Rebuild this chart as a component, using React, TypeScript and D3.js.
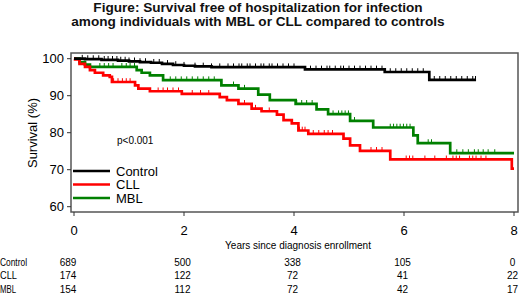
import React from "react";
import * as d3 from "d3";

const titleLines = [
  "Figure: Survival free of hospitalization for infection",
  "among individuals with MBL or CLL compared to controls",
];
const yTicks = [60, 70, 80, 90, 100];
const xTicks = [0, 2, 4, 6, 8];
const seriesNames = ["Control", "CLL", "MBL"];
const seriesColors = ["#000000", "#ff0000", "#008000"];

// [years, survival %]
const controlCurve: [number, number][] = [
  [0, 100], [0.2, 99.9], [0.5, 99.7], [0.8, 99.5], [1.0, 99.3], [1.2, 99.1],
  [1.4, 98.9], [1.6, 98.6], [1.8, 98.3], [2.0, 98.1], [2.2, 97.9], [2.5, 97.7],
  [4.2, 97.1], [5.65, 96.4], [6.46, 94.3],
];
const controlEnd = 7.31;
const cllCurve: [number, number][] = [
  [0, 100], [0.02, 99.8], [0.1, 98.6], [0.2, 97.8], [0.29, 96.9], [0.38, 96.2],
  [0.53, 95.5], [0.65, 95.1], [0.69, 93.7], [1.11, 92.8], [1.17, 91.9],
  [1.38, 91.2], [1.96, 90.5], [2.65, 89.6], [2.78, 88.8], [2.99, 87.8],
  [3.23, 86.5], [3.41, 85.8], [3.69, 84.9], [3.81, 83.4], [3.96, 82.5],
  [4.08, 80.6], [4.26, 79.7], [4.9, 78.4], [5.02, 76.6], [5.2, 75.1],
  [5.75, 72.8], [7.96, 70.3],
];
const cllEnd = 8.0;
const mblCurve: [number, number][] = [
  [0, 100], [0.1, 99.1], [0.2, 98.4], [0.29, 97.8], [1.14, 96.9], [1.23, 96.2],
  [1.38, 95.5], [1.62, 94.2], [2.68, 92.8], [2.99, 91.9], [3.35, 90.3],
  [3.56, 88.8], [4.03, 87.8], [4.41, 86.3], [4.62, 85.0], [5.02, 83.2],
  [5.44, 81.4], [6.17, 79.3], [6.25, 77.2], [6.84, 74.5],
];
const mblEnd = 8.0;

const controlCensor = [
  0.15, 0.25, 0.35, 0.45, 0.55, 0.62, 0.7, 0.78, 0.85, 0.93, 1.0, 1.1, 1.2, 1.3,
  1.45, 1.55, 1.7, 1.85, 2.0, 2.2, 2.35, 2.5, 2.65, 2.8, 2.9, 3.0, 3.05, 3.15,
  3.2, 3.3, 3.4, 3.45, 3.55, 3.6, 3.7, 3.8, 3.9, 4.0, 4.3, 4.4, 4.5, 4.6, 4.65,
  4.75, 4.85, 4.9, 5.0, 5.1, 5.2, 5.3, 5.4, 5.5, 5.6, 5.75, 5.85, 5.95, 6.05,
  6.15, 6.25, 6.35, 6.55, 6.65, 6.75, 6.85, 6.95, 7.05, 7.15, 7.25, 7.3,
];
const cllCensor = [
  0.72, 0.8, 0.88, 0.95, 1.02, 1.53, 1.62, 1.7, 1.8, 1.9, 2.15, 2.3, 2.45,
  3.1, 3.3, 3.55, 4.1, 4.15, 4.2, 4.35, 4.45, 4.55, 4.62, 4.7, 5.4, 5.5, 5.6,
  6.04, 6.1, 6.16, 6.38, 6.56, 6.77, 6.89, 6.95, 7.01, 7.19, 7.25, 7.31, 7.4,
  7.49,
];
const mblCensor = [
  0.47, 0.55, 0.63, 0.71, 0.87, 0.95, 1.02, 1.1, 1.75, 1.85, 1.95, 2.05, 2.15,
  2.25, 2.35, 2.45, 2.55, 2.9, 3.1, 4.05, 4.14, 4.23, 4.33, 4.71, 4.81, 4.87,
  4.93, 4.99, 5.1, 5.75, 5.81, 5.87, 5.93, 5.99, 6.05, 6.11, 6.44, 6.5, 6.96,
  7.07, 7.17, 7.28, 7.35, 7.44, 7.53, 7.65,
];

const atRiskTimes = [0, 2, 4, 6, 8];
const controlAtRisk = [689, 500, 338, 105, 0];
const cllAtRisk = [174, 122, 72, 41, 22];
const mblAtRisk = [154, 112, 72, 42, 17];

const W = 520;
const H = 295;
const FONT = "'Liberation Sans', Arial, sans-serif";

export default function App() {
  const x = d3.scaleLinear().domain([0, 8]).range([74, 514]);
  const y = d3.scaleLinear().domain([60, 100]).range([206.7, 58.7]);
  const frame = { left: 71, right: 518, top: 53, bottom: 212 };

  const line = d3
    .line<[number, number]>()
    .x((d) => x(d[0]))
    .y((d) => y(d[1]))
    .curve(d3.curveStepAfter);

  const series = [
    { curve: controlCurve, end: controlEnd, censor: controlCensor },
    { curve: cllCurve, end: cllEnd, censor: cllCensor },
    { curve: mblCurve, end: mblEnd, censor: mblCensor },
  ];

  const survAt = (curve: [number, number][], t: number) => {
    let s = curve[0][1];
    for (const p of curve) if (p[0] <= t) s = p[1];
    return s;
  };

  const atRisk = [controlAtRisk, cllAtRisk, mblAtRisk];

  return (
    <svg
      width={W}
      height={H}
      style={{ position: "absolute", left: 0, top: 0, background: "#fff" }}
      fontFamily={FONT}
    >
      <rect x={0} y={0} width={W} height={H} fill="#fff" />
      {titleLines.map((t, i) => (
        <text
          key={t}
          x={258}
          y={12 + i * 13.5}
          textAnchor="middle"
          fontSize={13.6}
          fontWeight="bold"
          fill="#111"
        >
          {t}
        </text>
      ))}

      {[2, 1, 0].map((i) => {
        const s = series[i];
        const pts: [number, number][] = [
          ...s.curve,
          [s.end, s.curve[s.curve.length - 1][1]],
        ];
        return (
          <g key={i}>
            <path
              d={line(pts) || ""}
              fill="none"
              stroke={seriesColors[i]}
              strokeWidth={2.7}
            />
            {s.censor.map((t, j) => {
              const yy = y(survAt(s.curve, t));
              return (
                <line
                  key={j}
                  x1={x(t)}
                  x2={x(t)}
                  y1={yy}
                  y2={yy - 3.8}
                  stroke={seriesColors[i]}
                  strokeWidth={1}
                />
              );
            })}
          </g>
        );
      })}

      <rect
        x={frame.left}
        y={frame.top}
        width={frame.right - frame.left}
        height={frame.bottom - frame.top}
        fill="none"
        stroke="#555"
        strokeWidth={1.5}
      />

      {yTicks.map((v) => (
        <g key={v}>
          <line x1={frame.left - 4} x2={frame.left} y1={y(v)} y2={y(v)} stroke="#333" />
          <text
            x={frame.left - 7}
            y={y(v) + 4.7}
            textAnchor="end"
            fontSize={13}
            fill="#000"
          >
            {v}
          </text>
        </g>
      ))}
      <text
        transform={`translate(37,133) rotate(-90)`}
        textAnchor="middle"
        fontSize={13}
        fill="#000"
      >
        Survival (%)
      </text>

      {xTicks.map((v) => (
        <g key={v}>
          <line x1={x(v)} x2={x(v)} y1={frame.bottom} y2={frame.bottom + 4} stroke="#333" />
          <text x={x(v)} y={235} textAnchor="middle" fontSize={13} fill="#000">
            {v}
          </text>
        </g>
      ))}
      <text x={298} y={248.5} textAnchor="middle" fontSize={10} fill="#000">
        Years since diagnosis enrollment
      </text>

      <text x={117} y={143.5} fontSize={10} fill="#000">
        p&lt;0.001
      </text>

      {seriesNames.map((n, i) => (
        <g key={n}>
          <line
            x1={73}
            x2={110}
            y1={171 + i * 13.5}
            y2={171 + i * 13.5}
            stroke={seriesColors[i]}
            strokeWidth={2.7}
          />
          <text x={116} y={171 + i * 13.5 + 4.7} fontSize={13} fill="#000">
            {n}
          </text>
        </g>
      ))}

      {seriesNames.map((n, i) => (
        <g key={n}>
          <text
            x={0}
            y={266 + i * 13.3}
            fontSize={10.5}
            fill="#000"
            textLength={[27, 17, 16][i]}
            lengthAdjust="spacingAndGlyphs"
          >
            {n}
          </text>
          {atRisk[i].map((v, j) => (
            <text
              key={j}
              x={j === 0 ? x(atRiskTimes[j]) - 6 : x(atRiskTimes[j]) - 1.5}
              y={266 + i * 13.3}
              textAnchor="middle"
              fontSize={10}
              fill="#000"
            >
              {v}
            </text>
          ))}
        </g>
      ))}
    </svg>
  );
}
